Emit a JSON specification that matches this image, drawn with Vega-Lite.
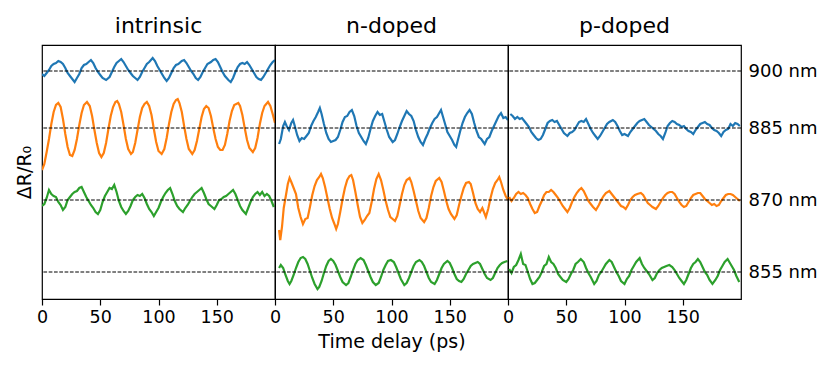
{
"$schema": "https://vega.github.io/schema/vega-lite/v6.json",
"background": "white",
"padding": {"left": 14, "top": 14, "right": 0, "bottom": 0},
"spacing": 0,
"bounds": "flush",
"config": {
  "font": "DejaVu Sans",
  "view": {"stroke": "black", "strokeWidth": 1.2},
  "axis": {"grid": false, "labelColor": "black", "titleColor": "black", "labelFont": "DejaVu Sans", "titleFont": "DejaVu Sans", "titleFontWeight": "normal"},
  "concat": {"spacing": 0}
},
"datasets": {
"base": [{"w": 900, "v": 2.01}, {"w": 885, "v": 1.44}, {"w": 870, "v": 0.72}, {"w": 855, "v": 0}],
"intrinsic": [
{"s":0,"t":0,"v":1.98},{"s":0,"t":2,"v":1.96},{"s":0,"t":4,"v":1.99},{"s":0,"t":6,"v":2.02},{"s":0,"t":8,"v":2.06},{"s":0,"t":10,"v":2.08},{"s":0,"t":12,"v":2.09},{"s":0,"t":14,"v":2.11},{"s":0,"t":16,"v":2.10},{"s":0,"t":18,"v":2.08},{"s":0,"t":20,"v":2.04},{"s":0,"t":22,"v":1.99},{"s":0,"t":24,"v":1.96},{"s":0,"t":26,"v":1.93},{"s":0,"t":28,"v":1.90},{"s":0,"t":30,"v":1.94},{"s":0,"t":32,"v":1.98},{"s":0,"t":34,"v":2.04},{"s":0,"t":36,"v":2.07},{"s":0,"t":38,"v":2.08},{"s":0,"t":40,"v":2.10},{"s":0,"t":42,"v":2.12},{"s":0,"t":44,"v":2.09},{"s":0,"t":46,"v":2.04},{"s":0,"t":48,"v":2.00},{"s":0,"t":50,"v":1.97},{"s":0,"t":52,"v":1.94},{"s":0,"t":55,"v":1.92},{"s":0,"t":58,"v":1.95},{"s":0,"t":60,"v":2.00},{"s":0,"t":62,"v":2.05},{"s":0,"t":64,"v":2.09},{"s":0,"t":66,"v":2.11},{"s":0,"t":68,"v":2.13},{"s":0,"t":70,"v":2.10},{"s":0,"t":72,"v":2.06},{"s":0,"t":74,"v":2.02},{"s":0,"t":76,"v":1.99},{"s":0,"t":78,"v":1.96},{"s":0,"t":80,"v":1.94},{"s":0,"t":82,"v":1.92},{"s":0,"t":84,"v":1.95},{"s":0,"t":86,"v":2.00},{"s":0,"t":88,"v":2.04},{"s":0,"t":90,"v":2.08},{"s":0,"t":92,"v":2.10},{"s":0,"t":95,"v":2.14},{"s":0,"t":97,"v":2.11},{"s":0,"t":99,"v":2.06},{"s":0,"t":101,"v":2.02},{"s":0,"t":103,"v":1.98},{"s":0,"t":105,"v":1.94},{"s":0,"t":107,"v":1.91},{"s":0,"t":109,"v":1.94},{"s":0,"t":111,"v":1.99},{"s":0,"t":113,"v":2.04},{"s":0,"t":115,"v":2.07},{"s":0,"t":117,"v":2.08},{"s":0,"t":120,"v":2.11},{"s":0,"t":122,"v":2.12},{"s":0,"t":124,"v":2.09},{"s":0,"t":126,"v":2.05},{"s":0,"t":128,"v":2.01},{"s":0,"t":130,"v":1.98},{"s":0,"t":132,"v":1.94},{"s":0,"t":134,"v":1.92},{"s":0,"t":136,"v":1.95},{"s":0,"t":138,"v":2.00},{"s":0,"t":140,"v":2.04},{"s":0,"t":142,"v":2.08},{"s":0,"t":145,"v":2.10},{"s":0,"t":147,"v":2.12},{"s":0,"t":149,"v":2.13},{"s":0,"t":151,"v":2.10},{"s":0,"t":153,"v":2.05},{"s":0,"t":155,"v":2.00},{"s":0,"t":157,"v":1.96},{"s":0,"t":160,"v":1.92},{"s":0,"t":162,"v":1.90},{"s":0,"t":164,"v":1.94},{"s":0,"t":166,"v":2.00},{"s":0,"t":168,"v":2.05},{"s":0,"t":170,"v":2.08},{"s":0,"t":172,"v":2.09},{"s":0,"t":174,"v":2.08},{"s":0,"t":176,"v":2.10},{"s":0,"t":178,"v":2.07},{"s":0,"t":180,"v":2.03},{"s":0,"t":182,"v":1.99},{"s":0,"t":184,"v":1.95},{"s":0,"t":186,"v":1.93},{"s":0,"t":188,"v":1.92},{"s":0,"t":190,"v":1.95},{"s":0,"t":192,"v":1.99},{"s":0,"t":194,"v":2.03},{"s":0,"t":196,"v":2.07},{"s":0,"t":198,"v":2.10},{"s":0,"t":200,"v":2.12},
{"s":1,"t":0,"v":1.02},{"s":1,"t":2,"v":1.08},{"s":1,"t":4,"v":1.20},{"s":1,"t":6,"v":1.33},{"s":1,"t":8,"v":1.48},{"s":1,"t":10,"v":1.60},{"s":1,"t":12,"v":1.67},{"s":1,"t":14,"v":1.69},{"s":1,"t":16,"v":1.65},{"s":1,"t":18,"v":1.53},{"s":1,"t":20,"v":1.38},{"s":1,"t":22,"v":1.25},{"s":1,"t":24,"v":1.17},{"s":1,"t":26,"v":1.16},{"s":1,"t":28,"v":1.22},{"s":1,"t":30,"v":1.33},{"s":1,"t":32,"v":1.47},{"s":1,"t":34,"v":1.59},{"s":1,"t":36,"v":1.67},{"s":1,"t":38.6,"v":1.70},{"s":1,"t":41,"v":1.66},{"s":1,"t":43,"v":1.56},{"s":1,"t":45,"v":1.42},{"s":1,"t":47,"v":1.29},{"s":1,"t":49,"v":1.19},{"s":1,"t":51,"v":1.15},{"s":1,"t":53,"v":1.19},{"s":1,"t":55,"v":1.29},{"s":1,"t":57,"v":1.43},{"s":1,"t":59,"v":1.56},{"s":1,"t":61,"v":1.65},{"s":1,"t":63,"v":1.70},{"s":1,"t":64.5,"v":1.71},{"s":1,"t":66,"v":1.68},{"s":1,"t":68,"v":1.60},{"s":1,"t":70,"v":1.47},{"s":1,"t":72,"v":1.33},{"s":1,"t":74,"v":1.23},{"s":1,"t":76.4,"v":1.18},{"s":1,"t":78,"v":1.20},{"s":1,"t":80,"v":1.29},{"s":1,"t":82,"v":1.42},{"s":1,"t":84,"v":1.55},{"s":1,"t":86,"v":1.64},{"s":1,"t":88,"v":1.68},{"s":1,"t":90,"v":1.70},{"s":1,"t":92,"v":1.66},{"s":1,"t":94,"v":1.57},{"s":1,"t":96,"v":1.43},{"s":1,"t":98,"v":1.30},{"s":1,"t":100,"v":1.21},{"s":1,"t":102.7,"v":1.18},{"s":1,"t":105,"v":1.23},{"s":1,"t":107,"v":1.34},{"s":1,"t":109,"v":1.48},{"s":1,"t":111,"v":1.60},{"s":1,"t":113,"v":1.68},{"s":1,"t":115,"v":1.72},{"s":1,"t":116.5,"v":1.73},{"s":1,"t":118,"v":1.69},{"s":1,"t":120,"v":1.60},{"s":1,"t":122,"v":1.46},{"s":1,"t":124,"v":1.33},{"s":1,"t":126,"v":1.23},{"s":1,"t":129,"v":1.18},{"s":1,"t":131,"v":1.22},{"s":1,"t":133,"v":1.31},{"s":1,"t":135,"v":1.43},{"s":1,"t":137,"v":1.55},{"s":1,"t":139,"v":1.63},{"s":1,"t":141,"v":1.66},{"s":1,"t":143,"v":1.64},{"s":1,"t":145,"v":1.56},{"s":1,"t":147,"v":1.44},{"s":1,"t":149,"v":1.33},{"s":1,"t":151,"v":1.25},{"s":1,"t":153,"v":1.22},{"s":1,"t":155,"v":1.22},{"s":1,"t":157,"v":1.27},{"s":1,"t":159,"v":1.38},{"s":1,"t":161,"v":1.51},{"s":1,"t":163,"v":1.61},{"s":1,"t":165,"v":1.67},{"s":1,"t":168.5,"v":1.69},{"s":1,"t":170,"v":1.66},{"s":1,"t":172,"v":1.57},{"s":1,"t":174,"v":1.44},{"s":1,"t":176,"v":1.32},{"s":1,"t":178,"v":1.24},{"s":1,"t":181,"v":1.20},{"s":1,"t":183,"v":1.24},{"s":1,"t":185,"v":1.34},{"s":1,"t":187,"v":1.48},{"s":1,"t":189,"v":1.59},{"s":1,"t":191,"v":1.66},{"s":1,"t":194,"v":1.70},{"s":1,"t":196,"v":1.66},{"s":1,"t":198,"v":1.58},{"s":1,"t":200,"v":1.49},
{"s":2,"t":0,"v":0.66},{"s":2,"t":2,"v":0.68},{"s":2,"t":4,"v":0.74},{"s":2,"t":6,"v":0.82},{"s":2,"t":8,"v":0.78},{"s":2,"t":10,"v":0.76},{"s":2,"t":12,"v":0.75},{"s":2,"t":14,"v":0.70},{"s":2,"t":16,"v":0.67},{"s":2,"t":18,"v":0.62},{"s":2,"t":20,"v":0.65},{"s":2,"t":22,"v":0.72},{"s":2,"t":24,"v":0.75},{"s":2,"t":26,"v":0.78},{"s":2,"t":28,"v":0.80},{"s":2,"t":30,"v":0.81},{"s":2,"t":32,"v":0.84},{"s":2,"t":34,"v":0.85},{"s":2,"t":36,"v":0.80},{"s":2,"t":38,"v":0.75},{"s":2,"t":40,"v":0.71},{"s":2,"t":42,"v":0.67},{"s":2,"t":44,"v":0.64},{"s":2,"t":46,"v":0.60},{"s":2,"t":48,"v":0.58},{"s":2,"t":50,"v":0.62},{"s":2,"t":52,"v":0.70},{"s":2,"t":54,"v":0.76},{"s":2,"t":56,"v":0.80},{"s":2,"t":58,"v":0.84},{"s":2,"t":60,"v":0.83},{"s":2,"t":62,"v":0.87},{"s":2,"t":64,"v":0.80},{"s":2,"t":66,"v":0.71},{"s":2,"t":68,"v":0.65},{"s":2,"t":70,"v":0.61},{"s":2,"t":72,"v":0.58},{"s":2,"t":74,"v":0.61},{"s":2,"t":76,"v":0.66},{"s":2,"t":78,"v":0.72},{"s":2,"t":80,"v":0.75},{"s":2,"t":82,"v":0.77},{"s":2,"t":84,"v":0.76},{"s":2,"t":86,"v":0.78},{"s":2,"t":88,"v":0.74},{"s":2,"t":90,"v":0.68},{"s":2,"t":92,"v":0.63},{"s":2,"t":94,"v":0.60},{"s":2,"t":96,"v":0.56},{"s":2,"t":98,"v":0.60},{"s":2,"t":100,"v":0.64},{"s":2,"t":102,"v":0.70},{"s":2,"t":104,"v":0.75},{"s":2,"t":106,"v":0.79},{"s":2,"t":108,"v":0.82},{"s":2,"t":110,"v":0.84},{"s":2,"t":112,"v":0.78},{"s":2,"t":114,"v":0.71},{"s":2,"t":116,"v":0.66},{"s":2,"t":118,"v":0.63},{"s":2,"t":121,"v":0.60},{"s":2,"t":123,"v":0.64},{"s":2,"t":125,"v":0.67},{"s":2,"t":127,"v":0.71},{"s":2,"t":129,"v":0.75},{"s":2,"t":131,"v":0.78},{"s":2,"t":133,"v":0.80},{"s":2,"t":135,"v":0.82},{"s":2,"t":137,"v":0.84},{"s":2,"t":139,"v":0.79},{"s":2,"t":141,"v":0.73},{"s":2,"t":143,"v":0.68},{"s":2,"t":145,"v":0.66},{"s":2,"t":148,"v":0.63},{"s":2,"t":150,"v":0.67},{"s":2,"t":152,"v":0.72},{"s":2,"t":154,"v":0.73},{"s":2,"t":156,"v":0.75},{"s":2,"t":158,"v":0.76},{"s":2,"t":160,"v":0.78},{"s":2,"t":162,"v":0.80},{"s":2,"t":164,"v":0.82},{"s":2,"t":166,"v":0.78},{"s":2,"t":168,"v":0.72},{"s":2,"t":170,"v":0.66},{"s":2,"t":172,"v":0.62},{"s":2,"t":175,"v":0.58},{"s":2,"t":177,"v":0.64},{"s":2,"t":179,"v":0.70},{"s":2,"t":181,"v":0.75},{"s":2,"t":183,"v":0.78},{"s":2,"t":185,"v":0.80},{"s":2,"t":187,"v":0.77},{"s":2,"t":189,"v":0.80},{"s":2,"t":191,"v":0.76},{"s":2,"t":193,"v":0.78},{"s":2,"t":195,"v":0.76},{"s":2,"t":197,"v":0.71},{"s":2,"t":199,"v":0.65}
],
"ndoped": [
{"s":0,"t":3.5,"v":1.28},{"s":0,"t":5,"v":1.33},{"s":0,"t":7,"v":1.46},{"s":0,"t":8.5,"v":1.50},{"s":0,"t":10,"v":1.46},{"s":0,"t":12,"v":1.42},{"s":0,"t":14,"v":1.49},{"s":0,"t":15.5,"v":1.52},{"s":0,"t":17,"v":1.46},{"s":0,"t":19,"v":1.37},{"s":0,"t":21,"v":1.31},{"s":0,"t":23,"v":1.34},{"s":0,"t":25,"v":1.33},{"s":0,"t":27,"v":1.36},{"s":0,"t":29,"v":1.39},{"s":0,"t":31,"v":1.46},{"s":0,"t":33,"v":1.51},{"s":0,"t":35,"v":1.55},{"s":0,"t":37,"v":1.60},{"s":0,"t":38.5,"v":1.64},{"s":0,"t":40,"v":1.58},{"s":0,"t":42,"v":1.48},{"s":0,"t":44,"v":1.39},{"s":0,"t":46,"v":1.33},{"s":0,"t":48,"v":1.30},{"s":0,"t":50,"v":1.31},{"s":0,"t":52,"v":1.32},{"s":0,"t":54,"v":1.35},{"s":0,"t":56,"v":1.42},{"s":0,"t":58,"v":1.50},{"s":0,"t":60,"v":1.55},{"s":0,"t":62,"v":1.56},{"s":0,"t":64,"v":1.60},{"s":0,"t":66,"v":1.62},{"s":0,"t":68,"v":1.56},{"s":0,"t":70,"v":1.46},{"s":0,"t":72,"v":1.39},{"s":0,"t":74,"v":1.35},{"s":0,"t":76,"v":1.31},{"s":0,"t":78,"v":1.28},{"s":0,"t":80,"v":1.34},{"s":0,"t":82,"v":1.43},{"s":0,"t":84,"v":1.51},{"s":0,"t":86,"v":1.56},{"s":0,"t":88,"v":1.60},{"s":0,"t":90,"v":1.57},{"s":0,"t":92,"v":1.58},{"s":0,"t":94,"v":1.50},{"s":0,"t":96,"v":1.42},{"s":0,"t":98,"v":1.35},{"s":0,"t":101,"v":1.30},{"s":0,"t":103,"v":1.32},{"s":0,"t":105,"v":1.38},{"s":0,"t":107,"v":1.45},{"s":0,"t":109,"v":1.51},{"s":0,"t":111,"v":1.56},{"s":0,"t":113,"v":1.61},{"s":0,"t":115,"v":1.58},{"s":0,"t":117,"v":1.56},{"s":0,"t":119,"v":1.51},{"s":0,"t":121,"v":1.42},{"s":0,"t":123,"v":1.35},{"s":0,"t":125,"v":1.30},{"s":0,"t":127,"v":1.27},{"s":0,"t":129,"v":1.33},{"s":0,"t":131,"v":1.38},{"s":0,"t":133,"v":1.44},{"s":0,"t":135,"v":1.49},{"s":0,"t":137,"v":1.53},{"s":0,"t":139,"v":1.55},{"s":0,"t":141,"v":1.59},{"s":0,"t":142.5,"v":1.62},{"s":0,"t":144,"v":1.56},{"s":0,"t":146,"v":1.48},{"s":0,"t":148,"v":1.40},{"s":0,"t":150,"v":1.36},{"s":0,"t":152,"v":1.32},{"s":0,"t":154,"v":1.27},{"s":0,"t":155.5,"v":1.25},{"s":0,"t":157,"v":1.32},{"s":0,"t":159,"v":1.41},{"s":0,"t":161,"v":1.49},{"s":0,"t":163,"v":1.55},{"s":0,"t":165,"v":1.59},{"s":0,"t":167,"v":1.62},{"s":0,"t":169,"v":1.58},{"s":0,"t":171,"v":1.49},{"s":0,"t":173,"v":1.41},{"s":0,"t":175,"v":1.35},{"s":0,"t":177,"v":1.33},{"s":0,"t":180,"v":1.28},{"s":0,"t":182,"v":1.33},{"s":0,"t":184,"v":1.35},{"s":0,"t":186,"v":1.41},{"s":0,"t":188,"v":1.46},{"s":0,"t":190,"v":1.51},{"s":0,"t":192,"v":1.56},{"s":0,"t":194,"v":1.59},{"s":0,"t":196,"v":1.54},{"s":0,"t":198,"v":1.55},{"s":0,"t":200,"v":1.52},
{"s":1,"t":3.5,"v":0.42},{"s":1,"t":4.5,"v":0.32},{"s":1,"t":6,"v":0.45},{"s":1,"t":7.5,"v":0.64},{"s":1,"t":9,"v":0.74},{"s":1,"t":11,"v":0.88},{"s":1,"t":12.5,"v":0.94},{"s":1,"t":14,"v":0.90},{"s":1,"t":16,"v":0.84},{"s":1,"t":18,"v":0.78},{"s":1,"t":20,"v":0.64},{"s":1,"t":22,"v":0.55},{"s":1,"t":24,"v":0.48},{"s":1,"t":26,"v":0.53},{"s":1,"t":28,"v":0.54},{"s":1,"t":30,"v":0.65},{"s":1,"t":32,"v":0.77},{"s":1,"t":34,"v":0.86},{"s":1,"t":36,"v":0.92},{"s":1,"t":38,"v":0.95},{"s":1,"t":39.5,"v":0.98},{"s":1,"t":41,"v":0.94},{"s":1,"t":43,"v":0.85},{"s":1,"t":45,"v":0.74},{"s":1,"t":47,"v":0.63},{"s":1,"t":49,"v":0.54},{"s":1,"t":51,"v":0.48},{"s":1,"t":52.5,"v":0.43},{"s":1,"t":54,"v":0.48},{"s":1,"t":56,"v":0.60},{"s":1,"t":58,"v":0.73},{"s":1,"t":60,"v":0.84},{"s":1,"t":62,"v":0.92},{"s":1,"t":64,"v":0.96},{"s":1,"t":65.5,"v":0.97},{"s":1,"t":67,"v":0.92},{"s":1,"t":69,"v":0.80},{"s":1,"t":71,"v":0.67},{"s":1,"t":73,"v":0.55},{"s":1,"t":75,"v":0.49},{"s":1,"t":77,"v":0.52},{"s":1,"t":79,"v":0.56},{"s":1,"t":81,"v":0.59},{"s":1,"t":83,"v":0.70},{"s":1,"t":85,"v":0.83},{"s":1,"t":87,"v":0.93},{"s":1,"t":89,"v":0.98},{"s":1,"t":91,"v":0.92},{"s":1,"t":93,"v":0.82},{"s":1,"t":95,"v":0.71},{"s":1,"t":97,"v":0.62},{"s":1,"t":99,"v":0.55},{"s":1,"t":101,"v":0.53},{"s":1,"t":103,"v":0.51},{"s":1,"t":105,"v":0.56},{"s":1,"t":107,"v":0.67},{"s":1,"t":109,"v":0.78},{"s":1,"t":111,"v":0.87},{"s":1,"t":113,"v":0.92},{"s":1,"t":115.5,"v":0.94},{"s":1,"t":117,"v":0.90},{"s":1,"t":119,"v":0.81},{"s":1,"t":121,"v":0.71},{"s":1,"t":123,"v":0.61},{"s":1,"t":125,"v":0.54},{"s":1,"t":128,"v":0.50},{"s":1,"t":130,"v":0.54},{"s":1,"t":132,"v":0.64},{"s":1,"t":134,"v":0.76},{"s":1,"t":136,"v":0.85},{"s":1,"t":138,"v":0.91},{"s":1,"t":141,"v":0.94},{"s":1,"t":143,"v":0.90},{"s":1,"t":145,"v":0.81},{"s":1,"t":147,"v":0.71},{"s":1,"t":149,"v":0.63},{"s":1,"t":151,"v":0.58},{"s":1,"t":154,"v":0.53},{"s":1,"t":156,"v":0.57},{"s":1,"t":158,"v":0.67},{"s":1,"t":160,"v":0.76},{"s":1,"t":162,"v":0.84},{"s":1,"t":164,"v":0.89},{"s":1,"t":166.5,"v":0.90},{"s":1,"t":168,"v":0.88},{"s":1,"t":170,"v":0.79},{"s":1,"t":172,"v":0.69},{"s":1,"t":174,"v":0.63},{"s":1,"t":176,"v":0.60},{"s":1,"t":178,"v":0.64},{"s":1,"t":181,"v":0.55},{"s":1,"t":183,"v":0.63},{"s":1,"t":185,"v":0.74},{"s":1,"t":187,"v":0.83},{"s":1,"t":189,"v":0.89},{"s":1,"t":191,"v":0.92},{"s":1,"t":192.5,"v":0.95},{"s":1,"t":194,"v":0.90},{"s":1,"t":196,"v":0.82},{"s":1,"t":198,"v":0.76},{"s":1,"t":200,"v":0.72},
{"s":2,"t":3.5,"v":0.04},{"s":2,"t":5,"v":0.07},{"s":2,"t":7,"v":0.04},{"s":2,"t":9,"v":-0.03},{"s":2,"t":11,"v":-0.09},{"s":2,"t":12.5,"v":-0.12},{"s":2,"t":14,"v":-0.09},{"s":2,"t":16,"v":-0.03},{"s":2,"t":18,"v":0.04},{"s":2,"t":20,"v":0.10},{"s":2,"t":22,"v":0.14},{"s":2,"t":24,"v":0.15},{"s":2,"t":26,"v":0.13},{"s":2,"t":28,"v":0.08},{"s":2,"t":30,"v":0.01},{"s":2,"t":32,"v":-0.06},{"s":2,"t":34,"v":-0.12},{"s":2,"t":36.5,"v":-0.17},{"s":2,"t":38,"v":-0.15},{"s":2,"t":40,"v":-0.09},{"s":2,"t":42,"v":-0.01},{"s":2,"t":44,"v":0.06},{"s":2,"t":46,"v":0.11},{"s":2,"t":48,"v":0.13},{"s":2,"t":50,"v":0.11},{"s":2,"t":52,"v":0.07},{"s":2,"t":54,"v":0.01},{"s":2,"t":56,"v":-0.05},{"s":2,"t":58,"v":-0.10},{"s":2,"t":61,"v":-0.13},{"s":2,"t":63,"v":-0.11},{"s":2,"t":65,"v":-0.05},{"s":2,"t":67,"v":0.02},{"s":2,"t":69,"v":0.08},{"s":2,"t":71,"v":0.12},{"s":2,"t":73.5,"v":0.14},{"s":2,"t":76,"v":0.12},{"s":2,"t":78,"v":0.07},{"s":2,"t":80,"v":0.01},{"s":2,"t":82,"v":-0.05},{"s":2,"t":84,"v":-0.10},{"s":2,"t":86.5,"v":-0.13},{"s":2,"t":89,"v":-0.11},{"s":2,"t":91,"v":-0.05},{"s":2,"t":93,"v":0.02},{"s":2,"t":95,"v":0.07},{"s":2,"t":97,"v":0.11},{"s":2,"t":99.5,"v":0.12},{"s":2,"t":102,"v":0.10},{"s":2,"t":104,"v":0.05},{"s":2,"t":106,"v":-0.01},{"s":2,"t":108,"v":-0.07},{"s":2,"t":111,"v":-0.13},{"s":2,"t":113,"v":-0.11},{"s":2,"t":115,"v":-0.06},{"s":2,"t":117,"v":0.00},{"s":2,"t":119,"v":0.06},{"s":2,"t":121,"v":0.10},{"s":2,"t":124,"v":0.12},{"s":2,"t":126,"v":0.10},{"s":2,"t":128,"v":0.06},{"s":2,"t":130,"v":0.00},{"s":2,"t":132,"v":-0.06},{"s":2,"t":134,"v":-0.10},{"s":2,"t":137,"v":-0.12},{"s":2,"t":139,"v":-0.08},{"s":2,"t":141,"v":-0.02},{"s":2,"t":143,"v":0.04},{"s":2,"t":145,"v":0.08},{"s":2,"t":148,"v":0.11},{"s":2,"t":150,"v":0.09},{"s":2,"t":152,"v":0.04},{"s":2,"t":154,"v":-0.02},{"s":2,"t":156,"v":-0.07},{"s":2,"t":158,"v":-0.09},{"s":2,"t":160,"v":-0.10},{"s":2,"t":162,"v":-0.07},{"s":2,"t":164,"v":-0.02},{"s":2,"t":166,"v":0.02},{"s":2,"t":168,"v":0.06},{"s":2,"t":170,"v":0.08},{"s":2,"t":172,"v":0.09},{"s":2,"t":174,"v":0.10},{"s":2,"t":176,"v":0.08},{"s":2,"t":178,"v":0.03},{"s":2,"t":180,"v":-0.02},{"s":2,"t":182,"v":-0.06},{"s":2,"t":185,"v":-0.08},{"s":2,"t":187,"v":-0.06},{"s":2,"t":189,"v":-0.01},{"s":2,"t":191,"v":0.04},{"s":2,"t":193,"v":0.07},{"s":2,"t":195,"v":0.09},{"s":2,"t":197,"v":0.10},{"s":2,"t":199.5,"v":0.11}
],
"pdoped": [
{"s":0,"t":2,"v":1.58},{"s":0,"t":4,"v":1.56},{"s":0,"t":6,"v":1.53},{"s":0,"t":8,"v":1.55},{"s":0,"t":10,"v":1.53},{"s":0,"t":12,"v":1.54},{"s":0,"t":14,"v":1.51},{"s":0,"t":16,"v":1.48},{"s":0,"t":18,"v":1.45},{"s":0,"t":20,"v":1.40},{"s":0,"t":22,"v":1.37},{"s":0,"t":24,"v":1.34},{"s":0,"t":26,"v":1.32},{"s":0,"t":28,"v":1.33},{"s":0,"t":30,"v":1.37},{"s":0,"t":32,"v":1.43},{"s":0,"t":34,"v":1.49},{"s":0,"t":36,"v":1.51},{"s":0,"t":38,"v":1.52},{"s":0,"t":40,"v":1.50},{"s":0,"t":42,"v":1.51},{"s":0,"t":44,"v":1.47},{"s":0,"t":46,"v":1.43},{"s":0,"t":48,"v":1.39},{"s":0,"t":51,"v":1.36},{"s":0,"t":53,"v":1.39},{"s":0,"t":55,"v":1.40},{"s":0,"t":57,"v":1.42},{"s":0,"t":59,"v":1.46},{"s":0,"t":61,"v":1.50},{"s":0,"t":63,"v":1.51},{"s":0,"t":65,"v":1.50},{"s":0,"t":67,"v":1.53},{"s":0,"t":69,"v":1.48},{"s":0,"t":71,"v":1.43},{"s":0,"t":73,"v":1.39},{"s":0,"t":75,"v":1.36},{"s":0,"t":77,"v":1.33},{"s":0,"t":79,"v":1.36},{"s":0,"t":81,"v":1.40},{"s":0,"t":83,"v":1.44},{"s":0,"t":85,"v":1.48},{"s":0,"t":87,"v":1.50},{"s":0,"t":90,"v":1.52},{"s":0,"t":92,"v":1.50},{"s":0,"t":94,"v":1.46},{"s":0,"t":96,"v":1.41},{"s":0,"t":98,"v":1.37},{"s":0,"t":100,"v":1.38},{"s":0,"t":103,"v":1.36},{"s":0,"t":105,"v":1.40},{"s":0,"t":107,"v":1.43},{"s":0,"t":109,"v":1.46},{"s":0,"t":111,"v":1.49},{"s":0,"t":113,"v":1.51},{"s":0,"t":115,"v":1.52},{"s":0,"t":117,"v":1.53},{"s":0,"t":119,"v":1.50},{"s":0,"t":121,"v":1.47},{"s":0,"t":123,"v":1.45},{"s":0,"t":125,"v":1.43},{"s":0,"t":127,"v":1.41},{"s":0,"t":129,"v":1.38},{"s":0,"t":131,"v":1.36},{"s":0,"t":133,"v":1.33},{"s":0,"t":135,"v":1.39},{"s":0,"t":137,"v":1.46},{"s":0,"t":139,"v":1.49},{"s":0,"t":141,"v":1.51},{"s":0,"t":143,"v":1.50},{"s":0,"t":145,"v":1.48},{"s":0,"t":147,"v":1.47},{"s":0,"t":149,"v":1.45},{"s":0,"t":151,"v":1.46},{"s":0,"t":153,"v":1.43},{"s":0,"t":155,"v":1.41},{"s":0,"t":157,"v":1.40},{"s":0,"t":159,"v":1.38},{"s":0,"t":161,"v":1.42},{"s":0,"t":163,"v":1.45},{"s":0,"t":165,"v":1.48},{"s":0,"t":167,"v":1.49},{"s":0,"t":169,"v":1.50},{"s":0,"t":171,"v":1.48},{"s":0,"t":173,"v":1.47},{"s":0,"t":175,"v":1.44},{"s":0,"t":177,"v":1.42},{"s":0,"t":179,"v":1.41},{"s":0,"t":181,"v":1.39},{"s":0,"t":183,"v":1.36},{"s":0,"t":185,"v":1.40},{"s":0,"t":187,"v":1.42},{"s":0,"t":189,"v":1.43},{"s":0,"t":191,"v":1.48},{"s":0,"t":193,"v":1.46},{"s":0,"t":195,"v":1.49},{"s":0,"t":197,"v":1.48},{"s":0,"t":199,"v":1.46},
{"s":1,"t":1,"v":0.75},{"s":1,"t":3,"v":0.71},{"s":1,"t":5,"v":0.74},{"s":1,"t":7,"v":0.78},{"s":1,"t":9,"v":0.80},{"s":1,"t":11,"v":0.78},{"s":1,"t":13,"v":0.79},{"s":1,"t":15,"v":0.77},{"s":1,"t":17,"v":0.74},{"s":1,"t":19,"v":0.68},{"s":1,"t":21,"v":0.63},{"s":1,"t":23,"v":0.59},{"s":1,"t":25,"v":0.60},{"s":1,"t":27,"v":0.66},{"s":1,"t":29,"v":0.71},{"s":1,"t":31,"v":0.77},{"s":1,"t":33,"v":0.80},{"s":1,"t":35,"v":0.80},{"s":1,"t":37,"v":0.82},{"s":1,"t":39,"v":0.80},{"s":1,"t":41,"v":0.77},{"s":1,"t":43,"v":0.74},{"s":1,"t":45,"v":0.70},{"s":1,"t":47,"v":0.66},{"s":1,"t":49,"v":0.63},{"s":1,"t":51,"v":0.60},{"s":1,"t":53,"v":0.64},{"s":1,"t":55,"v":0.70},{"s":1,"t":57,"v":0.75},{"s":1,"t":59,"v":0.79},{"s":1,"t":61,"v":0.82},{"s":1,"t":63,"v":0.84},{"s":1,"t":65,"v":0.81},{"s":1,"t":67,"v":0.76},{"s":1,"t":69,"v":0.71},{"s":1,"t":71,"v":0.68},{"s":1,"t":73,"v":0.65},{"s":1,"t":75.5,"v":0.62},{"s":1,"t":78,"v":0.67},{"s":1,"t":80,"v":0.72},{"s":1,"t":82,"v":0.76},{"s":1,"t":84,"v":0.79},{"s":1,"t":87,"v":0.81},{"s":1,"t":89,"v":0.78},{"s":1,"t":91,"v":0.75},{"s":1,"t":93,"v":0.72},{"s":1,"t":95,"v":0.69},{"s":1,"t":97,"v":0.66},{"s":1,"t":99,"v":0.65},{"s":1,"t":101,"v":0.63},{"s":1,"t":103,"v":0.67},{"s":1,"t":105,"v":0.72},{"s":1,"t":107,"v":0.75},{"s":1,"t":109,"v":0.77},{"s":1,"t":111,"v":0.78},{"s":1,"t":114,"v":0.79},{"s":1,"t":116,"v":0.77},{"s":1,"t":118,"v":0.73},{"s":1,"t":120,"v":0.69},{"s":1,"t":122,"v":0.67},{"s":1,"t":124,"v":0.65},{"s":1,"t":127,"v":0.63},{"s":1,"t":129,"v":0.66},{"s":1,"t":131,"v":0.70},{"s":1,"t":133,"v":0.74},{"s":1,"t":135,"v":0.77},{"s":1,"t":137,"v":0.79},{"s":1,"t":139,"v":0.80},{"s":1,"t":141,"v":0.80},{"s":1,"t":143,"v":0.78},{"s":1,"t":145,"v":0.74},{"s":1,"t":147,"v":0.70},{"s":1,"t":149,"v":0.67},{"s":1,"t":151,"v":0.65},{"s":1,"t":153,"v":0.66},{"s":1,"t":155,"v":0.70},{"s":1,"t":157,"v":0.74},{"s":1,"t":159,"v":0.77},{"s":1,"t":161,"v":0.78},{"s":1,"t":163,"v":0.79},{"s":1,"t":165,"v":0.79},{"s":1,"t":167,"v":0.76},{"s":1,"t":169,"v":0.73},{"s":1,"t":171,"v":0.71},{"s":1,"t":173,"v":0.69},{"s":1,"t":175,"v":0.67},{"s":1,"t":177,"v":0.68},{"s":1,"t":179,"v":0.66},{"s":1,"t":181,"v":0.67},{"s":1,"t":183,"v":0.71},{"s":1,"t":185,"v":0.74},{"s":1,"t":187,"v":0.77},{"s":1,"t":189,"v":0.78},{"s":1,"t":191,"v":0.78},{"s":1,"t":193,"v":0.77},{"s":1,"t":195,"v":0.75},{"s":1,"t":197,"v":0.73},{"s":1,"t":199,"v":0.71},
{"s":2,"t":1,"v":0.03},{"s":2,"t":3,"v":-0.01},{"s":2,"t":5,"v":0.05},{"s":2,"t":7,"v":0.07},{"s":2,"t":9,"v":0.12},{"s":2,"t":11,"v":0.18},{"s":2,"t":13,"v":0.08},{"s":2,"t":15,"v":0.07},{"s":2,"t":17,"v":0.00},{"s":2,"t":19,"v":-0.07},{"s":2,"t":21,"v":-0.12},{"s":2,"t":23,"v":-0.11},{"s":2,"t":25,"v":-0.08},{"s":2,"t":27,"v":-0.05},{"s":2,"t":29,"v":0.00},{"s":2,"t":31,"v":0.06},{"s":2,"t":33,"v":0.08},{"s":2,"t":35,"v":0.15},{"s":2,"t":37,"v":0.10},{"s":2,"t":39,"v":0.08},{"s":2,"t":41,"v":0.04},{"s":2,"t":43,"v":-0.02},{"s":2,"t":45,"v":-0.05},{"s":2,"t":47,"v":-0.08},{"s":2,"t":50,"v":-0.10},{"s":2,"t":52,"v":-0.07},{"s":2,"t":54,"v":-0.02},{"s":2,"t":56,"v":0.02},{"s":2,"t":58,"v":0.08},{"s":2,"t":60,"v":0.10},{"s":2,"t":62.5,"v":0.13},{"s":2,"t":65,"v":0.10},{"s":2,"t":67,"v":0.04},{"s":2,"t":69,"v":-0.01},{"s":2,"t":71,"v":-0.05},{"s":2,"t":74,"v":-0.12},{"s":2,"t":76,"v":-0.09},{"s":2,"t":78,"v":-0.03},{"s":2,"t":80,"v":0.00},{"s":2,"t":82,"v":0.04},{"s":2,"t":84,"v":0.08},{"s":2,"t":87,"v":0.12},{"s":2,"t":89,"v":0.10},{"s":2,"t":91,"v":0.05},{"s":2,"t":93,"v":0.00},{"s":2,"t":95,"v":-0.04},{"s":2,"t":97,"v":-0.09},{"s":2,"t":100,"v":-0.12},{"s":2,"t":102,"v":-0.07},{"s":2,"t":104,"v":-0.04},{"s":2,"t":106,"v":0.02},{"s":2,"t":108,"v":0.06},{"s":2,"t":110,"v":0.10},{"s":2,"t":113,"v":0.14},{"s":2,"t":115,"v":0.08},{"s":2,"t":117,"v":0.04},{"s":2,"t":119,"v":0.01},{"s":2,"t":121,"v":-0.02},{"s":2,"t":124,"v":-0.08},{"s":2,"t":126,"v":-0.06},{"s":2,"t":128,"v":-0.01},{"s":2,"t":130,"v":0.02},{"s":2,"t":132,"v":0.04},{"s":2,"t":134,"v":0.05},{"s":2,"t":136,"v":0.06},{"s":2,"t":138.5,"v":0.07},{"s":2,"t":141,"v":0.05},{"s":2,"t":143,"v":0.02},{"s":2,"t":145,"v":-0.02},{"s":2,"t":147,"v":-0.06},{"s":2,"t":149,"v":-0.09},{"s":2,"t":151,"v":-0.12},{"s":2,"t":153,"v":-0.08},{"s":2,"t":155,"v":-0.02},{"s":2,"t":157,"v":0.04},{"s":2,"t":159,"v":0.08},{"s":2,"t":161,"v":0.10},{"s":2,"t":163,"v":0.13},{"s":2,"t":165,"v":0.10},{"s":2,"t":167,"v":0.05},{"s":2,"t":169,"v":0.00},{"s":2,"t":171,"v":-0.03},{"s":2,"t":173,"v":-0.08},{"s":2,"t":175.5,"v":-0.12},{"s":2,"t":178,"v":-0.08},{"s":2,"t":180,"v":-0.04},{"s":2,"t":182,"v":0.02},{"s":2,"t":184,"v":0.06},{"s":2,"t":186,"v":0.10},{"s":2,"t":188.5,"v":0.13},{"s":2,"t":190,"v":0.10},{"s":2,"t":192,"v":0.06},{"s":2,"t":194,"v":0.02},{"s":2,"t":196,"v":-0.04},{"s":2,"t":198.5,"v":-0.10}
]
},
"hconcat": [
{
  "width": 233, "height": 254,
  "title": {"text": "intrinsic", "fontSize": 22, "fontWeight": "normal", "font": "DejaVu Sans", "color": "black", "offset": 7, "anchor": "middle"},
  "encoding": {"y": {"field": "v", "type": "quantitative", "scale": {"domain": [-0.27, 2.27], "nice": false, "zero": false},
     "axis": {"title": "ΔR/R₀", "labels": false, "ticks": false, "domain": false, "titleFontSize": 19, "titlePadding": 8}}},
  "layer": [
    {"data": {"name": "intrinsic"}, "mark": {"type": "line", "strokeWidth": 2.2, "clip": true},
     "encoding": {"x": {"field": "t", "type": "quantitative", "scale": {"domain": [0, 200], "nice": false},
        "axis": {"title": null, "values": [0, 50, 100, 150], "domain": false, "tickSize": 6, "tickWidth": 1.2, "tickColor": "black", "labelFontSize": 17.5, "labelPadding": 3, "labelFlush": false}},
       "color": {"field": "s", "type": "nominal", "scale": {"domain": [0, 1, 2], "range": ["#1f77b4", "#ff7f0e", "#2ca02c"]}, "legend": null}}},
    {"data": {"name": "base"}, "mark": {"type": "rule", "color": "black", "strokeWidth": 1, "strokeDash": [3.7, 1.6]}, "encoding": {}}
  ]
},
{
  "width": 233, "height": 254,
  "title": {"text": "n-doped", "fontSize": 22, "fontWeight": "normal", "font": "DejaVu Sans", "color": "black", "offset": 7, "anchor": "middle"},
  "encoding": {"y": {"field": "v", "type": "quantitative", "scale": {"domain": [-0.27, 2.27], "nice": false, "zero": false}, "axis": null}},
  "layer": [
    {"data": {"name": "ndoped"}, "mark": {"type": "line", "strokeWidth": 2.2, "clip": true},
     "encoding": {"x": {"field": "t", "type": "quantitative", "scale": {"domain": [0, 200], "nice": false},
        "axis": {"title": "Time delay (ps)", "titleFontSize": 19, "titlePadding": 7, "values": [0, 50, 100, 150], "domain": false, "tickSize": 6, "tickWidth": 1.2, "tickColor": "black", "labelFontSize": 17.5, "labelPadding": 3, "labelFlush": false}},
       "color": {"field": "s", "type": "nominal", "scale": {"domain": [0, 1, 2], "range": ["#1f77b4", "#ff7f0e", "#2ca02c"]}, "legend": null}}},
    {"data": {"name": "base"}, "mark": {"type": "rule", "color": "black", "strokeWidth": 1, "strokeDash": [3.7, 1.6]}, "encoding": {}}
  ]
},
{
  "width": 233, "height": 254,
  "title": {"text": "p-doped", "fontSize": 22, "fontWeight": "normal", "font": "DejaVu Sans", "color": "black", "offset": 7, "anchor": "middle"},
  "encoding": {"y": {"field": "v", "type": "quantitative", "scale": {"domain": [-0.27, 2.27], "nice": false, "zero": false},
     "axis": {"orient": "right", "title": null, "values": [2.01, 1.44, 0.72, 0], "labelExpr": "datum.value == 2.01 ? '900 nm' : datum.value == 1.44 ? '885 nm' : datum.value == 0.72 ? '870 nm' : '855 nm'", "ticks": false, "domain": false, "labelFontSize": 18, "labelPadding": 7, "labelOverlap": false}}},
  "layer": [
    {"data": {"name": "pdoped"}, "mark": {"type": "line", "strokeWidth": 2.2, "clip": true},
     "encoding": {"x": {"field": "t", "type": "quantitative", "scale": {"domain": [0, 200], "nice": false},
        "axis": {"title": null, "values": [0, 50, 100, 150], "domain": false, "tickSize": 6, "tickWidth": 1.2, "tickColor": "black", "labelFontSize": 17.5, "labelPadding": 3, "labelFlush": false}},
       "color": {"field": "s", "type": "nominal", "scale": {"domain": [0, 1, 2], "range": ["#1f77b4", "#ff7f0e", "#2ca02c"]}, "legend": null}}},
    {"data": {"name": "base"}, "mark": {"type": "rule", "color": "black", "strokeWidth": 1, "strokeDash": [3.7, 1.6]}, "encoding": {}}
  ]
}
]
}
